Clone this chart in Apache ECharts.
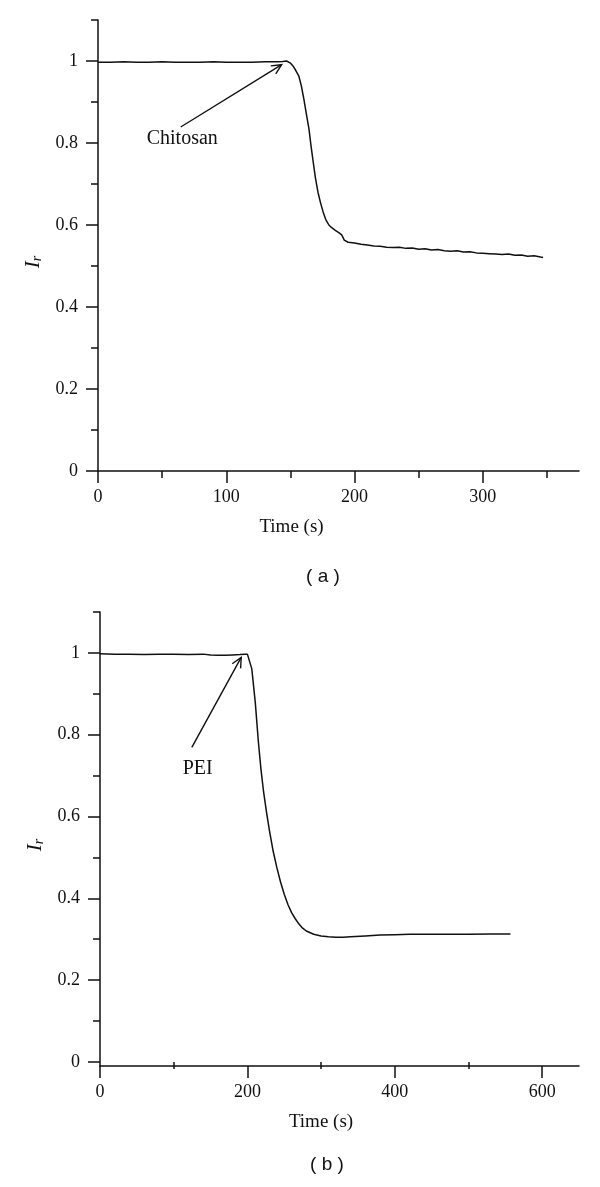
<!DOCTYPE html>
<html>
<head>
<meta charset="utf-8">
<script src="https://cdn.jsdelivr.net/npm/echarts@6/dist/echarts.min.js"></script>
<style>html,body{margin:0;padding:0;background:#fff}#c{width:600px;height:1187px}</style>
</head>
<body>
<div id="c"></div>
<script>
// ---- Panel (a): Chitosan ----
const timeA = [0,10,20,30,40,50,60,70,80,90,100,110,120,130,140,144,147,150,152,154,156.5,158.5,160.5,162.5,164.5,166,167.5,169.5,171.5,173.5,175.5,177.5,180,182,185,188,190,192,195,200,205,210,215,220,225,230,235,240,245,250,255,260,265,270,275,280,285,290,295,300,305,310,315,320,325,330,335,340,345,347];
const irA = [0.997,0.997,0.998,0.997,0.997,0.998,0.997,0.997,0.997,0.998,0.997,0.997,0.997,0.998,0.998,0.999,1.000,0.995,0.988,0.978,0.964,0.940,0.907,0.870,0.834,0.795,0.760,0.715,0.680,0.654,0.632,0.614,0.600,0.594,0.587,0.581,0.576,0.563,0.558,0.556,0.553,0.551,0.549,0.548,0.546,0.545,0.546,0.543,0.544,0.541,0.542,0.539,0.540,0.537,0.536,0.537,0.534,0.535,0.532,0.531,0.530,0.529,0.528,0.529,0.526,0.527,0.524,0.525,0.522,0.521];
const xMajorA = [0,100,200,300];
const xMinorA = [50,150,250,350];
const arrowA = [64.5,0.839,143.2,0.991];
const labelA = ['Chitosan', 65.7, 0.811];

// ---- Panel (b): PEI ----
const timeB = [0,20,40,60,80,100,120,140,150,160,170,180,190,197,200,201.6,206,210.7,215,218.4,222,226,230,235,240,245,250,255,260,265,270,275,280,290,300,310,320,330,340,360,380,400,420,450,480,500,530,557];
const irB = [0.998,0.997,0.997,0.996,0.997,0.997,0.996,0.997,0.995,0.994,0.994,0.995,0.996,0.997,0.997,0.993,0.961,0.879,0.781,0.716,0.660,0.610,0.565,0.515,0.475,0.440,0.410,0.385,0.365,0.350,0.337,0.327,0.320,0.312,0.308,0.306,0.305,0.305,0.306,0.308,0.310,0.311,0.312,0.312,0.312,0.312,0.313,0.313];
const xMajorB = [0,200,400,600];
const xMinorB = [100,300,500];
const arrowB = [124.6,0.769,191.6,0.989];
const labelB = ['PEI', 132.5, 0.716];

const yMajor = [0,0.2,0.4,0.6,0.8,1];
const yMinor = [0.1,0.3,0.5,0.7,0.9,1.1];

const SERIF = 'Liberation Serif';
const INK = '#111';

function pairs(xs, ys){ return xs.map((x,i)=>[x, ys[i]]); }

function arrowItem(params, api){
  const p0 = api.coord([api.value(0), api.value(1)]);
  const p1 = api.coord([api.value(2), api.value(3)]);
  const ang = Math.atan2(p1[1]-p0[1], p1[0]-p0[0]);
  const L = 11, a = 0.45;
  const h1 = [p1[0]-L*Math.cos(ang-a), p1[1]-L*Math.sin(ang-a)];
  const h2 = [p1[0]-L*Math.cos(ang+a), p1[1]-L*Math.sin(ang+a)];
  return {type:'group', children:[
    {type:'line', shape:{x1:p0[0],y1:p0[1],x2:p1[0],y2:p1[1]}, style:{stroke:INK, lineWidth:1.4}},
    {type:'polyline', shape:{points:[h1,p1,h2]}, style:{stroke:INK, fill:null, lineWidth:1.4}}
  ]};
}
function textItem(params, api){
  const p = api.coord([api.value(1), api.value(2)]);
  return {type:'text', x:p[0], y:p[1], style:{text:api.value(0), fill:INK, fontFamily:SERIF, fontSize:20, textAlign:'center', textVerticalAlign:'middle'}};
}

function xAxes(grid, max, majors, minors, namePad){
  return [
    {type:'value', gridIndex:grid, min:0, max:max, position:'bottom',
     axisLine:{show:true, onZero:false, lineStyle:{color:INK, width:1.5}},
     axisTick:{show:true, length:12, customValues:majors, lineStyle:{color:INK, width:1.5}},
     axisLabel:{customValues:majors, margin:17, color:INK, fontFamily:SERIF, fontSize:18},
     splitLine:{show:false},
     name:'Time (s)', nameLocation:'middle', nameGap:47,
     nameTextStyle:{color:INK, fontFamily:SERIF, fontSize:19, padding:[0,namePad,0,0]}},
    {type:'value', gridIndex:grid, min:0, max:max, position:'bottom',
     axisLine:{show:false}, axisLabel:{show:false}, splitLine:{show:false},
     axisTick:{show:true, length:7, customValues:minors, lineStyle:{color:INK, width:1.5}}}
  ];
}
function yAxes(grid, min, namePad){
  return [
    {type:'value', gridIndex:grid, min:min, max:1.1, position:'left',
     axisLine:{show:true, onZero:false, lineStyle:{color:INK, width:1.5}},
     axisTick:{show:true, length:12, customValues:yMajor, lineStyle:{color:INK, width:1.5}},
     axisLabel:{customValues:yMajor, margin:20, color:INK, fontFamily:SERIF, fontSize:18,
       formatter:v=>String(+v.toFixed(1))},
     splitLine:{show:false},
     name:'{i|I}{r|r}', nameLocation:'middle', nameGap:52, nameRotate:90,
     nameTextStyle:{padding:[0,namePad,0,0], rich:{
       i:{fontFamily:SERIF, fontStyle:'italic', fontSize:21, color:INK, lineHeight:22, verticalAlign:'middle'},
       r:{fontFamily:SERIF, fontStyle:'italic', fontSize:14, color:INK, lineHeight:22, verticalAlign:'bottom', padding:[8,0,0,0]}
     }}},
    {type:'value', gridIndex:grid, min:min, max:1.1, position:'left',
     axisLine:{show:false}, axisLabel:{show:false}, splitLine:{show:false},
     axisTick:{show:true, length:7, customValues:yMinor, lineStyle:{color:INK, width:1.5}}}
  ];
}

const chart = echarts.init(document.getElementById('c'), null, {renderer:'canvas'});
const option = {
  animation:false,
  backgroundColor:'#fff',
  grid:[
    {left:98, top:20, width:481, height:451},
    {left:100, top:612, width:479, height:454}
  ],
  xAxis:[...xAxes(0,375,xMajorA,xMinorA,94), ...xAxes(1,650,xMajorB,xMinorB,37)],
  yAxis:[...yAxes(0,0,33), ...yAxes(1,-0.01,12)],
  graphic:[
    {type:'text', x:323, y:577, style:{text:'( a )', fontFamily:'Liberation Sans', fontSize:19, fill:INK, textAlign:'center', textVerticalAlign:'middle'}},
    {type:'text', x:327, y:1165, style:{text:'( b )', fontFamily:'Liberation Sans', fontSize:19, fill:INK, textAlign:'center', textVerticalAlign:'middle'}}
  ],
  series:[
    {type:'line', xAxisIndex:0, yAxisIndex:0, data:pairs(timeA, irA), showSymbol:false, symbol:'none',
     lineStyle:{color:INK, width:1.5}},
    {type:'custom', xAxisIndex:0, yAxisIndex:0, renderItem:arrowItem, data:[arrowA], encode:{x:[0,2], y:[1,3]}},
    {type:'custom', xAxisIndex:0, yAxisIndex:0, renderItem:textItem, data:[labelA],
     dimensions:[{name:'t', type:'ordinal'},'x','y'], encode:{x:1, y:2}},
    {type:'line', xAxisIndex:2, yAxisIndex:2, data:pairs(timeB, irB), showSymbol:false, symbol:'none',
     lineStyle:{color:INK, width:1.5}},
    {type:'custom', xAxisIndex:2, yAxisIndex:2, renderItem:arrowItem, data:[arrowB], encode:{x:[0,2], y:[1,3]}},
    {type:'custom', xAxisIndex:2, yAxisIndex:2, renderItem:textItem, data:[labelB],
     dimensions:[{name:'t', type:'ordinal'},'x','y'], encode:{x:1, y:2}}
  ]
};
chart.setOption(option);
</script>
</body>
</html>
